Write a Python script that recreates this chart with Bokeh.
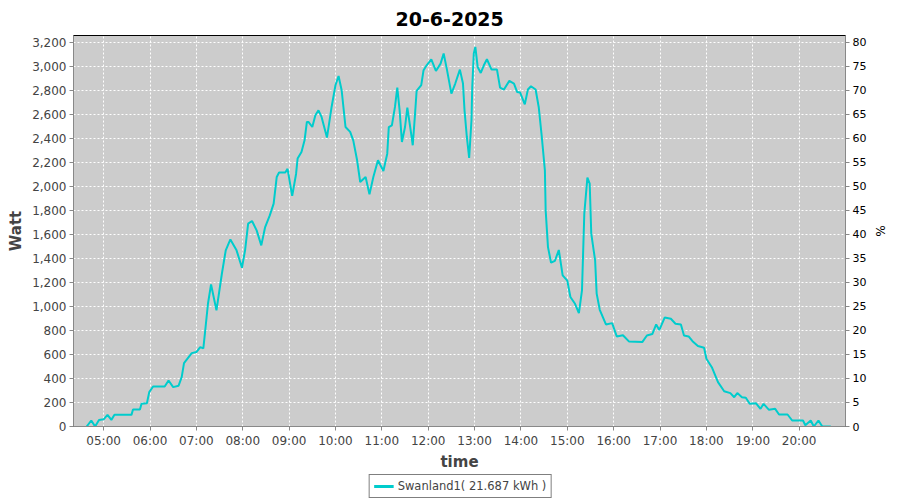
import pandas as pd
from bokeh.plotting import figure
from bokeh.layouts import column
from bokeh.models import (LinearAxis, Range1d, FixedTicker, DatetimeTickFormatter,
                          NumeralTickFormatter, Legend, LegendItem, ColumnDataSource)
from bokeh.embed import file_html
from bokeh.resources import INLINE

chart_title = "20-6-2025"
day = "2025-06-20"
series_name = "Swanland1( 21.687 kWh )"
hour_ticks = ["05:00", "06:00", "07:00", "08:00", "09:00", "10:00", "11:00", "12:00",
              "13:00", "14:00", "15:00", "16:00", "17:00", "18:00", "19:00", "20:00"]
watt_ticks = list(range(0, 3201, 200))
pct_ticks = list(range(0, 81, 5))

times = ["04:38", "04:44", "04:49", "04:54", "05:00", "05:05", "05:10", "05:14", "05:36", "05:38",
         "05:47", "05:49", "05:56", "05:59", "06:04", "06:19", "06:24", "06:30", "06:37", "06:41",
         "06:44", "06:54", "07:00", "07:05", "07:09", "07:11", "07:15", "07:19", "07:26", "07:33",
         "07:38", "07:44", "07:52", "07:59", "08:03", "08:07", "08:12", "08:18", "08:24", "08:29",
         "08:35", "08:40", "08:44", "08:47", "08:55", "08:58", "09:04", "09:09", "09:11", "09:16",
         "09:20", "09:23", "09:25", "09:30", "09:34", "09:38", "09:42", "09:49", "09:55", "10:00",
         "10:04", "10:08", "10:13", "10:19", "10:23", "10:28", "10:32", "10:39", "10:44", "10:49",
         "10:55", "11:02", "11:07", "11:09", "11:13", "11:17", "11:20", "11:23", "11:26", "11:30",
         "11:33", "11:37", "11:40", "11:43", "11:45", "11:51", "11:54", "11:58", "12:04", "12:10",
         "12:16", "12:20", "12:24", "12:30", "12:35", "12:41", "12:45", "12:47", "12:50", "12:53",
         "12:56", "12:57", "12:59", "13:01", "13:04", "13:08", "13:12", "13:16", "13:22", "13:29",
         "13:33", "13:38", "13:45", "13:51", "13:55", "13:59", "14:05", "14:09", "14:13", "14:19",
         "14:23", "14:27", "14:31", "14:32", "14:35", "14:39", "14:44", "14:49", "14:54", "15:00",
         "15:04", "15:10", "15:15", "15:19", "15:22", "15:26", "15:29", "15:31", "15:36", "15:38",
         "15:42", "15:46", "15:50", "15:58", "16:04", "16:12", "16:20", "16:37", "16:43", "16:50",
         "16:55", "16:59", "17:06", "17:14", "17:20", "17:27", "17:31", "17:37", "17:42", "17:49",
         "17:57", "18:00", "18:07", "18:15", "18:23", "18:31", "18:36", "18:40", "18:46", "18:51",
         "18:56", "19:04", "19:10", "19:14", "19:21", "19:29", "19:34", "19:45", "19:51", "20:05",
         "20:08", "20:15", "20:19", "20:25", "20:30", "20:41"]
watts = [0, 50, 0, 55, 60, 97, 55, 97, 97, 142,
         142, 189, 194, 286, 333, 333, 383, 328, 340, 411,
         528, 611, 620, 661, 650, 772, 1022, 1183, 967, 1272,
         1467, 1558, 1467, 1322, 1467, 1689, 1711, 1633, 1508, 1661,
         1758, 1856, 2078, 2115, 2115, 2145, 1920, 2103, 2231, 2286,
         2383, 2536, 2536, 2494, 2592, 2633, 2578, 2406, 2661, 2842,
         2919, 2800, 2494, 2453, 2383, 2217, 2036, 2078, 1933, 2078,
         2217, 2128, 2272, 2494, 2508, 2661, 2822, 2633, 2369, 2494,
         2656, 2481, 2342, 2606, 2794, 2842, 2967, 3008, 3058, 2961,
         3022, 3106, 2980, 2772, 2856, 2972, 2856, 2633, 2411, 2236,
         2550, 2828, 3106, 3161, 2994, 2944, 3008, 3058, 2972, 2972,
         2822, 2806, 2878, 2856, 2786, 2781, 2683, 2806, 2833, 2806,
         2661, 2411, 2133, 1800, 1494, 1364, 1380, 1470, 1258, 1215,
         1078, 1022, 944, 1133, 1772, 2072, 2022, 1606, 1383, 1106,
         972, 911, 850, 861, 750, 760, 707, 703, 758, 770,
         850, 803, 907, 897, 856, 850, 758, 750, 710, 670,
         656, 564, 494, 369, 294, 278, 244, 278, 244, 239,
         189, 194, 147, 189, 139, 147, 100, 100, 50, 50,
         10, 50, 0, 50, 0, 0]

x_start, x_end = "04:21", "21:00"
watt_max = 3256
pct_per_watt = 80 / 3200
line_color = "#00cccc"


def ts(hm):
    return pd.Timestamp(f"{day} {hm}")


src = ColumnDataSource(dict(t=[ts(s) for s in times], w=watts))

p = figure(frame_width=772, frame_height=391, output_backend="svg", toolbar_location=None,
           x_axis_type="datetime",
           x_range=Range1d(ts(x_start), ts(x_end)),
           y_range=Range1d(0, watt_max),
           min_border_left=73, min_border_right=53, min_border_top=33, min_border_bottom=0)
p.extra_y_ranges = {"pct": Range1d(0, watt_max * pct_per_watt)}

p.background_fill_color = "#cccccc"
p.border_fill_color = "white"
p.outline_line_color = "black"
p.outline_line_width = 1

p.title.text = chart_title
p.title.align = "left"
p.title.offset = 322
p.title.standoff = 19
p.title.text_font = "DejaVu Sans"
p.title.text_font_size = "19px"
p.title.text_font_style = "bold"
p.title.text_color = "black"

tick_ms = [ts(h).value // 10**6 for h in hour_ticks]
xa = p.xaxis[0]
xa.ticker = FixedTicker(ticks=tick_ms)
xa.formatter = DatetimeTickFormatter(hours="%H:%M", minutes="%H:%M", days="%H:%M", hourmin="%H:%M")
xa.axis_label = "time"

ya = p.yaxis[0]
ya.ticker = FixedTicker(ticks=watt_ticks)
ya.formatter = NumeralTickFormatter(format="0,0")
ya.axis_label = "Watt"

ra = LinearAxis(y_range_name="pct", axis_label="%", ticker=FixedTicker(ticks=pct_ticks))
p.add_layout(ra, "right")

for ax in (xa, ya, ra):
    ax.axis_line_color = "#888888"
    ax.major_tick_line_color = "#888888"
    ax.minor_tick_line_color = None
    ax.major_tick_in = 0
    ax.major_tick_out = 4
    ax.major_label_text_font = "DejaVu Sans"
    ax.major_label_text_font_size = "12px"
    ax.major_label_text_color = "#444444"
    ax.axis_label_text_font = "DejaVu Sans"
    ax.axis_label_text_font_size = "15px"
    ax.axis_label_text_font_style = "bold"
    ax.axis_label_text_color = "#444444"
    ax.major_label_standoff = 3
    ax.axis_label_standoff = 4
xa.axis_label_standoff = 2
ra.major_label_text_color = "black"
ra.major_label_text_font_size = "11px"
ra.axis_label_text_font_size = "12px"
ra.axis_label_text_font_style = "normal"
ra.axis_label_text_color = "black"

p.xgrid.ticker = FixedTicker(ticks=tick_ms)
p.ygrid.ticker = FixedTicker(ticks=watt_ticks)
for g in (p.xgrid, p.ygrid):
    g.grid_line_color = "white"
    g.grid_line_dash = "2 2"
    g.grid_line_width = 1

r = p.line("t", "w", source=src, line_color=line_color, line_width=2)

# legend strip below the chart (series drawn out of view, only its key shows)
q = figure(width=900, height=26, output_backend="svg", toolbar_location=None,
           x_range=Range1d(0, 1), y_range=Range1d(0, 1),
           min_border_left=0, min_border_right=0, min_border_top=0, min_border_bottom=0)
q.xaxis.visible = False
q.yaxis.visible = False
q.xgrid.visible = False
q.ygrid.visible = False
q.outline_line_color = None
q.background_fill_color = "white"
q.border_fill_color = "white"
key = q.line("t", "w", source=src, line_color=line_color, line_width=3)

legend = Legend(items=[LegendItem(label=series_name, renderers=[key])],
                location="center", orientation="horizontal",
                border_line_color="black", border_line_width=1,
                background_fill_color="white", background_fill_alpha=1,
                label_text_font="DejaVu Sans", label_text_font_size="11.5px",
                label_text_color="#444444", label_height=14,
                glyph_width=20, glyph_height=12, padding=4, margin=0,
                label_standoff=4, spacing=0)
q.add_layout(legend)

layout = column(p, q, spacing=0)
open("out.html", "w").write(file_html(layout, INLINE))
